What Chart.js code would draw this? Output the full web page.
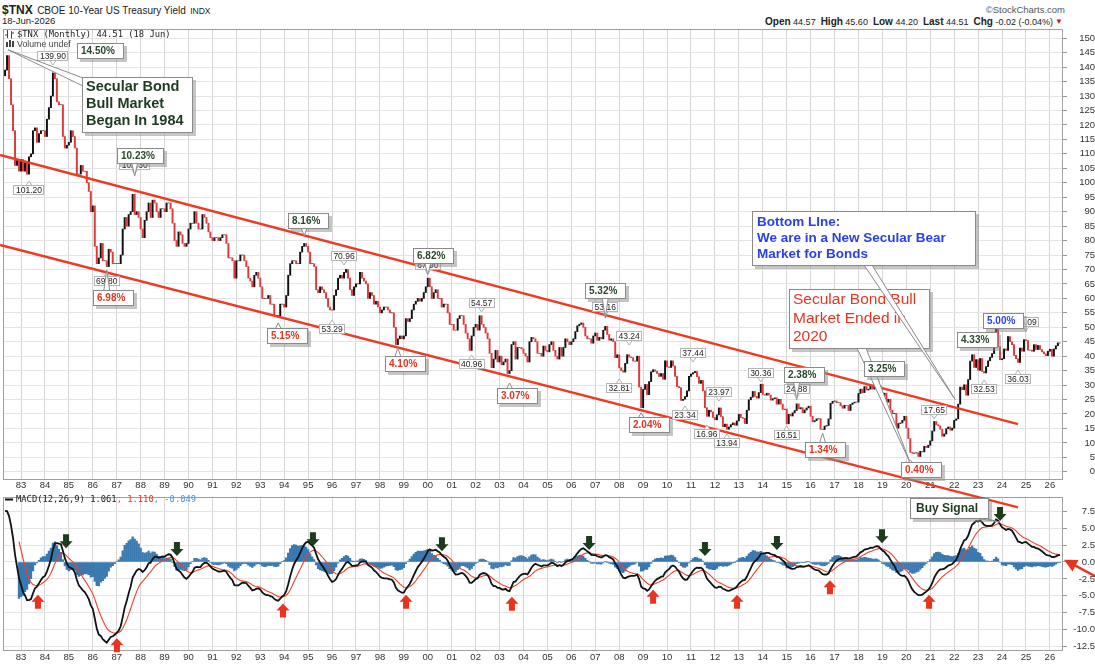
<!DOCTYPE html>
<html>
<head>
<meta charset="utf-8">
<title>$TNX monthly</title>
<script src="https://cdn.jsdelivr.net/npm/chart.js@4.4.1/dist/chart.umd.min.js"></script>
<style>
  html, body { margin: 0; padding: 0; background: #fff; }
  body { position: relative; width: 1095px; height: 666px; overflow: hidden; font-family: 'Liberation Sans', Arial, sans-serif; color: #222; }
  .hdr { position: absolute; white-space: nowrap; }
  canvas { position: absolute; left: 0; }
  #macd { top: 490px; }
  #price { top: 0; pointer-events: none; }
</style>
</head>
<body>
<div class="hdr" style="left:2px;top:1px;line-height:16px;"><b style="font-size:12px;">$TNX</b> <span style="font-size:10px;">CBOE 10-Year US Treasury Yield</span> <span style="font-size:8.5px;">INDX</span></div>
<div class="hdr" style="left:2px;top:15px;font-size:9.5px;line-height:12px;">18-Jun-2026</div>
<div class="hdr" style="right:30px;top:4px;font-size:9.5px;line-height:12px;color:#555;">&copy;StockCharts.com</div>
<div class="hdr" style="right:42px;top:16px;font-size:9px;line-height:12px;"><b style="font-size:10px;">Open</b> 44.57&nbsp; <b style="font-size:10px;">High</b> 45.60&nbsp; <b style="font-size:10px;">Low</b> 44.20&nbsp; <b style="font-size:10px;">Last</b> 44.51&nbsp; <b style="font-size:10px;">Chg</b> -0.02 (-0.04%)</div>
<div class="hdr" style="right:32px;top:17px;font-size:8px;line-height:10px;color:#c4161c;">&#9660;</div>
<canvas id="macd" width="1095" height="176"></canvas>
<canvas id="price" width="1095" height="666"></canvas>
<script>
Chart.defaults.font.family = "'Liberation Sans', Arial, sans-serif";
Chart.defaults.color = '#333';

// month index: 0 = Jan 1983, one tick per January
const yearLabels = ['83', '84', '85', '86', '87', '88', '89', '90', '91', '92', '93', '94', '95', '96', '97',
  '98', '99', '00', '01', '02', '03', '04', '05', '06', '07', '08', '09', '10', '11', '12', '13', '14', '15',
  '16', '17', '18', '19', '20', '21', '22', '23', '24', '25', '26'];
const priceTicks = [0, 5, 10, 15, 20, 25, 30, 35, 40, 45, 50, 55, 60, 65, 70, 75, 80, 85, 90, 95, 100,
  105, 110, 115, 120, 125, 130, 135, 140, 145, 150];
const macdTicks = [-12.5, -10, -7.5, -5, -2.5, 0, 2.5, 5, 7.5];

// monthly closes of $TNX (yield x 10), first bar is May 1982
const firstMonth = -8;
const firstOpen = 137;
const closes1982 = [139, 144, 136, 127, 118, 106, 108, 104];
const closes1980s = [
  108, 104, 107, 103, 109, 110, 118, 119, 114, 117, 118, 118,
  116, 122, 126, 130, 138, 136, 128, 127, 127, 116, 112, 113,
  114, 118, 116, 112, 103, 103, 106, 104, 104, 100, 97, 90,
  92, 78, 72, 74, 79, 73, 73, 71, 77, 76, 72, 72,
  72, 72, 75, 84, 88, 85, 89, 90, 96, 89, 90, 88,
  84, 81, 87, 90, 93, 88, 94, 93, 90, 88, 91, 91,
  90, 93, 93, 91, 86, 80, 78, 83, 82, 79, 78, 79
];
const closes1990s = [
  84, 86, 86, 90, 86, 84, 84, 89, 88, 86, 83, 81,
  80, 81, 81, 80, 81, 82, 82, 79, 74, 74, 73, 67,
  73, 73, 75, 75, 73, 71, 67, 66, 64, 68, 69, 67,
  64, 60, 60, 60, 61, 58, 58, 54, 54, 54, 58, 58,
  57, 61, 68, 72, 73, 73, 72, 72, 76, 78, 79, 78,
  76, 72, 72, 71, 63, 62, 64, 63, 62, 60, 57, 56,
  56, 61, 63, 67, 68, 67, 69, 70, 67, 63, 61, 64,
  65, 65, 69, 67, 66, 65, 60, 62, 61, 58, 59, 57,
  55, 56, 57, 57, 56, 55, 55, 50, 44, 46, 47, 46,
  47, 53, 52, 53, 56, 58, 59, 60, 59, 60, 62, 64
];
const closes2000s = [
  67, 64, 60, 62, 63, 60, 60, 57, 58, 58, 55, 51,
  51, 49, 49, 53, 54, 54, 51, 48, 46, 42, 47, 50,
  51, 49, 54, 51, 50, 48, 46, 41, 36, 39, 42, 38,
  40, 37, 38, 39, 34, 35, 44, 45, 39, 43, 43, 42.5,
  41, 40, 38, 45, 46.5, 46, 45, 41, 41, 40, 43.5, 42,
  41.5, 44, 45, 42, 40, 39, 43, 40, 43, 46, 45, 44,
  45, 46, 48.5, 50.5, 51, 51.5, 50, 47, 46, 46, 44.5, 47,
  48, 45.5, 46.5, 46, 49, 50.3, 47.5, 45.5, 46, 45, 39.5, 40.5,
  36, 35, 34.5, 37.5, 40.5, 39.7, 39.5, 38.3, 38.3, 40, 29.3, 22.2,
  28.5, 30.2, 26.7, 31.2, 34.6, 35.3, 34.8, 34, 33, 34, 32, 38.4
];
const closes2010s = [
  36.3, 36.1, 38.4, 36.6, 33, 29.5, 29.1, 24.7, 25.1, 26, 28, 33,
  33.8, 34.3, 34.7, 32.9, 30.6, 31.6, 28, 22.2, 19.2, 21.3, 20.7, 18.8,
  18, 19.7, 22.1, 19.1, 15.6, 16.5, 14.7, 15.5, 16.3, 16.9, 16.1, 17.6,
  19.9, 18.8, 18.5, 16.7, 21.3, 24.9, 25.8, 27.8, 26.1, 25.5, 27.4, 30.3,
  26.7, 26.5, 27.2, 26.5, 24.8, 25.3, 25.6, 23.4, 25.1, 23.4, 21.6, 21.7,
  16.6, 19.9, 19.3, 20.4, 21.2, 23.5, 21.8, 22.2, 20.4, 21.4, 22.1, 22.7,
  19.2, 17.3, 17.7, 18.3, 18.4, 14.7, 14.6, 15.8, 16, 18.3, 23.7, 24.4,
  24.5, 23.9, 23.9, 22.8, 22, 23, 22.9, 21.2, 23.3, 23.8, 24.1, 24.1,
  27.1, 28.6, 27.4, 29.5, 28.3, 28.6, 29.6, 28.6, 30.6, 31.5, 29.9, 26.9,
  26.3, 27.2, 24.1, 25.1, 21.3, 20.1, 20.2, 15.1, 16.7, 16.9, 17.8, 19.2
];
const closes2020s = [
  15.1, 11.5, 6.7, 6.4, 6.5, 6.6, 5.3, 7.1, 6.9, 8.8, 8.4, 9.2,
  10.7, 14.1, 17.4, 16.3, 15.9, 14.7, 12.3, 13.1, 14.9, 15.5, 14.4, 15.1,
  17.8, 18.3, 23.4, 29.3, 28.4, 30.1, 26.5, 31.9, 38.3, 40.5, 36.1, 38.8,
  35.1, 39.2, 34.7, 34.2, 36.4, 38.4, 39.6, 40.9, 45.7, 49.3, 43.3, 38.8,
  39.1, 42.5, 42, 46.8, 45, 44, 40.3, 39.1, 37.8, 42.8, 41.7, 45.7,
  45.4, 42.1, 42.1, 41.7, 44, 42.3, 43.7, 42.3, 41.5, 40.8, 40.2, 41.7,
  42.4, 40, 42.5, 43.6, 44.6, 44.51
];
const closes = [].concat(closes1982, closes1980s, closes1990s, closes2000s, closes2010s, closes2020s);
const months = closes.map((_, i) => firstMonth + i);
const opens = closes.map((c, i) => (i === 0 ? firstOpen : closes[i - 1]));

// hand drawn trendlines: [start, end] in months / yield
const trendMonths = [-10.5, 500];
const upperTrend = [109.6, 16.5];
const lowerTrend = [78.5, -12.3];

// MACD(12,26,9), EMA states carried in from before the first bar
const fastSeed = 137, slowSeed = 129, signalSeed = 9;
function ema(src, n, seed) {
  const k = 2 / (n + 1);
  let prev = seed;
  return src.map(v => (prev = prev + k * (v - prev)));
}
const fastEma = ema(closes, 12, fastSeed);
const slowEma = ema(closes, 26, slowSeed);
const macdLine = closes.map((_, i) => fastEma[i] - slowEma[i]);
const signalLine = ema(macdLine, 9, signalSeed);
const signalFrom = -1;

// arrows drawn on the MACD panel (month, MACD value at arrow tip)
const sellArrowMonths = [22.6, 78.2, 146.4, 211.1, 284.9, 343, 379.1, 431.8, 491];
const sellArrowTips = [2.05, 0.9, 2.34, 1.6, 1.77, 0.9, 1.77, 2.77, 6.08];
const buyArrowMonths = [8.5, 48.1, 131.4, 193.1, 246.2, 317, 359.1, 405.7, 455.4];
const buyArrowTips = [-4.84, -11.3, -6.13, -4.84, -5.13, -4.12, -4.84, -2.69, -4.84];

const GREEN = '#28472b', DARKGREEN = '#1e3a20', RED = '#e8341f', BLUE = '#2a3fe6';
const FONT = "'Liberation Sans', Arial, sans-serif";

// auto labels at highs and lows: [month, value, text, above]
const valueLabels = [
  [16, 139.9, '139.90', true], [4, 101.2, '101.20', false], [57, 102.3, '102.30', true],
  [43, 69.8, '69.80', false], [162, 70.96, '70.96', true], [156, 53.29, '53.29', false],
  [204, 67.9, '67.90', true], [231, 54.57, '54.57', true], [226, 40.96, '40.96', false],
  [293, 53.16, '53.16', true], [305, 43.24, '43.24', true], [300, 32.81, '32.81', false],
  [337, 37.44, '37.44', true], [333, 23.34, '23.34', false], [350, 23.97, '23.97', true],
  [344, 16.96, '16.96', false], [354, 13.94, '13.94', false], [371, 30.36, '30.36', true],
  [384, 16.51, '16.51', false], [389, 24.88, '24.88', true], [458, 17.65, '17.65', true],
  [483, 32.53, '32.53', false], [500, 36.03, '36.03', false], [504, 48.09, '48.09', true]
];

const percentBoxes = [
  { text: '14.50%', color: GREEN, m: -7, v: 146, dx: 70, dy: -7 },
  { text: '10.23%', color: GREEN, m: 57, v: 102.3, dx: -17.7, dy: -28.1 },
  { text: '6.98%', color: RED, m: 43, v: 69.8, dx: -13.7, dy: 19.9 },
  { text: '8.16%', color: GREEN, m: 142, v: 81.6, dx: -16.1, dy: -23 },
  { text: '5.15%', color: RED, m: 129, v: 51.5, dx: -11.2, dy: 5 },
  { text: '6.82%', color: GREEN, m: 204, v: 68.2, dx: -14.8, dy: -26.7 },
  { text: '4.10%', color: RED, m: 189, v: 43, dx: -12.9, dy: 8.5 },
  { text: '3.07%', color: RED, m: 245, v: 30.7, dx: -12.5, dy: 5 },
  { text: '5.32%', color: GREEN, m: 293, v: 53.2, dx: -20.2, dy: -35.1 },
  { text: '2.04%', color: RED, m: 311, v: 20.4, dx: -12.1, dy: 4.2 },
  { text: '2.38%', color: GREEN, m: 389, v: 24.9, dx: -12.7, dy: -32.8 },
  { text: '1.34%', color: RED, m: 402, v: 13.4, dx: -17.6, dy: 8.9 },
  { text: '3.25%', color: GREEN, m: 429, v: 32.5, dx: -12.4, dy: -16.9 },
  { text: '0.40%', color: RED, m: 446, v: 4, dx: -9.3, dy: 1.8 },
  { text: '4.33%', color: GREEN, m: 477, v: 43.3, dx: -15.1, dy: -14.7 },
  { text: '5.00%', color: BLUE, m: 490, v: 50, dx: -15.1, dy: -14.3 }
];

const bigCallouts = [
  { lines: ['Secular Bond', 'Bull Market', 'Began In 1984'], font: 'bold 14.5px ' + FONT, color: DARKGREEN,
    m: -6.5, v: 146, dx: 74, dy: 27.1, w: 111, h: 56, pad: 4, first: 10, lh: 17, base: [[1, 1], [1, 9]] },
  { lines: ['Secular Bond Bull', 'Market Ended in', '2020'], font: '15.5px ' + FONT, color: RED,
    m: 446, v: 3, dx: -121.3, dy: -174.1, w: 141, h: 60, pad: 4, first: 11, lh: 18.3, base: [[68, 59], [77, 59]] },
  { lines: ['Bottom LIne:', 'We are in a New Secular Bear', 'Market for Bonds'], font: 'bold 13.5px ' + FONT, color: BLUE,
    m: 468.5, v: 25, dx: -203.2, dy: -188.6, w: 224, h: 55, pad: 5, first: 11, lh: 16.3, base: [[112, 54], [120, 54]] }
];
const buySignal = { lines: ['Buy Signal'], font: 'bold 12px ' + FONT, color: DARKGREEN,
  m: 491, v: 5.9, dx: -90.1, dy: -24.2, w: 79, h: 21, pad: 6, first: 10.5, lh: 14, base: [[66, 20], [74, 20]] };

// ---------- drawing helpers ----------
function panelBorder(chart) {
  const a = chart.chartArea, ctx = chart.ctx;
  ctx.save();
  ctx.strokeStyle = '#a0a0a0';
  ctx.lineWidth = 1;
  ctx.strokeRect(Math.round(a.left) + 0.5, Math.round(a.top) + 0.5, Math.round(a.right - a.left) - 1, Math.round(a.bottom - a.top) - 1);
  ctx.restore();
}
function shadow(ctx, x, y, w, h) {
  ctx.fillStyle = 'rgba(140,140,140,0.5)';
  ctx.fillRect(x + 3, y + 3, w, h);
}
function box(ctx, x, y, w, h, border) {
  ctx.fillStyle = '#fff';
  ctx.fillRect(x, y, w, h);
  ctx.strokeStyle = border;
  ctx.lineWidth = 1;
  ctx.strokeRect(Math.round(x) + 0.5, Math.round(y) + 0.5, Math.round(w) - 1, Math.round(h) - 1);
}
function wedge(ctx, x1, y1, x2, y2, tx, ty, border) {
  ctx.beginPath();
  ctx.moveTo(x1, y1);
  ctx.lineTo(tx, ty);
  ctx.lineTo(x2, y2);
  ctx.closePath();
  ctx.fillStyle = '#fff';
  ctx.fill();
  ctx.strokeStyle = border;
  ctx.lineWidth = 1;
  ctx.stroke();
}
function drawCallout(ctx, c, ax, ay) {
  const x = Math.round(ax + c.dx), y = Math.round(ay + c.dy);
  shadow(ctx, x, y, c.w, c.h);
  wedge(ctx, x + c.base[0][0], y + c.base[0][1], x + c.base[1][0], y + c.base[1][1], ax, ay, '#8a8a8a');
  box(ctx, x, y, c.w, c.h, '#8a8a8a');
  ctx.font = c.font;
  ctx.fillStyle = c.color;
  ctx.textAlign = 'left';
  ctx.textBaseline = 'middle';
  c.lines.forEach((t, i) => ctx.fillText(t, x + c.pad, y + c.first + i * c.lh));
}
function drawPercentBox(ctx, b, ax, ay) {
  ctx.font = 'bold 10px ' + FONT;
  const w = Math.round(ctx.measureText(b.text).width) + 13, h = 16;
  const x = Math.round(ax + b.dx), y = Math.round(ay + b.dy);
  shadow(ctx, x, y, w, h);
  const cx = Math.min(Math.max(ax, x + 6), x + w - 6);
  if (ay > y + h + 1) wedge(ctx, cx - 3, y + h - 1, cx + 3, y + h - 1, ax, ay, '#8a8a8a');
  else if (ay < y - 1) wedge(ctx, cx - 3, y + 1, cx + 3, y + 1, ax, ay, '#8a8a8a');
  box(ctx, x, y, w, h, '#8a8a8a');
  ctx.fillStyle = b.color;
  ctx.textAlign = 'left';
  ctx.textBaseline = 'middle';
  ctx.fillText(b.text, x + 4, y + h / 2 + 0.5);
}
function drawValueLabel(ctx, l, ax, ay) {
  ctx.font = '8.5px ' + FONT;
  const w = Math.round(ctx.measureText(l[2]).width) + 5, h = 10;
  const x = Math.round(ax - w / 2);
  const y = Math.round(l[3] ? ay - 6 - h : ay + 6);
  const tipY = l[3] ? y + h + 4 : y - 4;
  const baseY = l[3] ? y + h - 0.5 : y + 0.5;
  wedge(ctx, ax - 3, baseY, ax + 3, baseY, ax, tipY, '#b0b0b0');
  box(ctx, x, y, w, h, '#b4b4b4');
  ctx.fillStyle = '#222';
  ctx.textAlign = 'center';
  ctx.textBaseline = 'middle';
  ctx.fillText(l[2], ax, y + h / 2 + 0.5);
}
function blockArrow(ctx, x, y, down, color) {
  const s = down ? -1 : 1;
  ctx.fillStyle = color;
  ctx.beginPath();
  ctx.moveTo(x - 3, y + s * 14);
  ctx.lineTo(x + 3, y + s * 14);
  ctx.lineTo(x + 3, y + s * 7);
  ctx.lineTo(x + 6.5, y + s * 7);
  ctx.lineTo(x, y);
  ctx.lineTo(x - 6.5, y + s * 7);
  ctx.lineTo(x - 3, y + s * 7);
  ctx.closePath();
  ctx.fill();
}

function xScale(height, pad) {
  return {
    type: 'linear', min: -9.03, max: 522.57, offset: false,
    afterBuildTicks: s => { s.ticks = yearLabels.map((_, i) => ({ value: i * 12 })); },
    afterFit: s => { s.height = height; },
    grid: { color: '#d6d6d6', drawTicks: false, offset: false },
    border: { display: false },
    ticks: { autoSkip: false, maxRotation: 0, padding: pad, font: { size: 9.5 }, color: '#333',
      callback: v => yearLabels[Math.round(v / 12)] }
  };
}

// ---------- MACD panel ----------
const macdTop = 490;
const macdDecor = {
  id: 'macdDecor',
  beforeDatasetsDraw(chart) { panelBorder(chart); },
  afterDatasetsDraw(chart) {
    const ctx = chart.ctx, sx = chart.scales.x, sy = chart.scales.y;
    ctx.save();
    sellArrowMonths.forEach((m, i) => blockArrow(ctx, sx.getPixelForValue(m), sy.getPixelForValue(sellArrowTips[i]), true, '#1d3b1d'));
    buyArrowMonths.forEach((m, i) => blockArrow(ctx, sx.getPixelForValue(m), sy.getPixelForValue(buyArrowTips[i]), false, RED));
    ctx.restore();
  },
  afterDraw(chart) {
    const ctx = chart.ctx, a = chart.chartArea;
    ctx.save();
    // legend
    ctx.strokeStyle = '#111';
    ctx.lineWidth = 2;
    ctx.beginPath();
    ctx.moveTo(5, 9.5);
    ctx.lineTo(13, 9.5);
    ctx.stroke();
    ctx.font = "8.8px 'DejaVu Sans Mono', monospace";
    ctx.textBaseline = 'middle';
    ctx.textAlign = 'left';
    let x = 16;
    [['MACD(12,26,9) 1.061', '#222'], [', 1.110', RED], [', -0.049', '#4d94d6']].forEach(p => {
      ctx.fillStyle = p[1];
      ctx.fillText(p[0], x, 9.5);
      x += ctx.measureText(p[0]).width;
    });
    // red arrow at the right end
    const tx = a.right + 1, ty = chart.scales.y.getPixelForValue(0.35);
    const ex = tx + 32, ey = ty + 17;
    const ang = Math.atan2(ty - ey, tx - ex);
    ctx.strokeStyle = RED;
    ctx.lineWidth = 2.5;
    ctx.beginPath();
    ctx.moveTo(ex, ey);
    ctx.lineTo(tx - 8 * Math.cos(ang), ty - 8 * Math.sin(ang));
    ctx.stroke();
    ctx.fillStyle = RED;
    ctx.beginPath();
    ctx.moveTo(tx, ty);
    ctx.lineTo(tx - 13 * Math.cos(ang) + 6.5 * Math.sin(ang), ty - 13 * Math.sin(ang) - 6.5 * Math.cos(ang));
    ctx.lineTo(tx - 13 * Math.cos(ang) - 6.5 * Math.sin(ang), ty - 13 * Math.sin(ang) + 6.5 * Math.cos(ang));
    ctx.closePath();
    ctx.fill();
    ctx.restore();
  }
};

const macdChart = new Chart(document.getElementById('macd'), {
  type: 'bar',
  data: {
    datasets: [
      { type: 'line', data: months.map((m, i) => ({ x: m, y: macdLine[i] })), borderColor: '#111', borderWidth: 1.8,
        pointRadius: 0, order: 0 },
      { type: 'line', data: months.map((m, i) => ({ x: m, y: signalLine[i] })).filter(p => p.x >= signalFrom),
        borderColor: '#f0402a', borderWidth: 1.1, pointRadius: 0, order: 1 },
      { type: 'bar', data: months.map((m, i) => ({ x: m, y: macdLine[i] - signalLine[i] })).filter(p => p.x >= signalFrom),
        backgroundColor: '#3a78b0', barThickness: 1.7, order: 2 }
    ]
  },
  options: {
    responsive: false, animation: false, events: [],
    layout: { padding: { left: 3, top: 2, right: 0, bottom: 0 } },
    plugins: { legend: { display: false }, tooltip: { enabled: false } },
    scales: {
      x: xScale(15, 1),
      y: {
        position: 'right', min: -13.18, max: 9.67,
        afterBuildTicks: s => { s.ticks = macdTicks.map(v => ({ value: v })); },
        afterFit: s => { s.width = 32; },
        grid: { color: '#e4e4e4', tickColor: '#999', tickLength: 4 },
        border: { display: false },
        ticks: { crossAlign: 'far', padding: 1, font: { size: 9.5 }, color: '#333', callback: v => v.toFixed(1) }
      }
    }
  },
  plugins: [macdDecor]
});

// ---------- price panel (canvas covers the whole page) ----------
const priceDecor = {
  id: 'priceDecor',
  beforeDatasetsDraw(chart) { panelBorder(chart); },
  afterDraw(chart) {
    const ctx = chart.ctx, sx = chart.scales.x, sy = chart.scales.y;
    const px = m => sx.getPixelForValue(m), py = v => sy.getPixelForValue(v);
    ctx.save();
    // panel legend
    ctx.strokeStyle = '#444';
    ctx.lineWidth = 1;
    ctx.beginPath();
    ctx.moveTo(7.5, 30); ctx.lineTo(7.5, 38); ctx.moveTo(5, 35); ctx.lineTo(7.5, 35);
    ctx.moveTo(11.5, 31); ctx.lineTo(11.5, 38.5); ctx.moveTo(11.5, 33); ctx.lineTo(14, 33);
    ctx.stroke();
    ctx.fillStyle = '#444';
    ctx.fillRect(6, 42, 2, 5); ctx.fillRect(9, 40, 2, 7); ctx.fillRect(12, 41, 2, 6);
    ctx.font = "8.8px 'DejaVu Sans Mono', monospace";
    ctx.fillStyle = '#222';
    ctx.textAlign = 'left';
    ctx.textBaseline = 'middle';
    ctx.fillText('$TNX (Monthly) 44.51 (18 Jun)', 17, 34.5);
    ctx.font = '8.8px ' + FONT;
    ctx.fillStyle = '#444';
    ctx.fillText('Volume undef', 17, 44.5);

    valueLabels.forEach(l => drawValueLabel(ctx, l, px(l[0]), py(l[1])));
    bigCallouts.forEach(c => drawCallout(ctx, c, px(c.m), py(c.v)));
    percentBoxes.forEach(b => drawPercentBox(ctx, b, px(b.m), py(b.v)));
    // Buy Signal sits on the MACD panel, over the lower trendline
    drawCallout(ctx, buySignal, px(buySignal.m), macdTop + macdChart.scales.y.getPixelForValue(buySignal.v));
    ctx.restore();
  }
};

new Chart(document.getElementById('price'), {
  type: 'bar',
  data: {
    datasets: [
      { type: 'line', data: trendMonths.map((m, i) => ({ x: m, y: upperTrend[i] })), borderColor: '#ee3a23',
        borderWidth: 2.4, pointRadius: 0, clip: false, order: 0 },
      { type: 'line', data: trendMonths.map((m, i) => ({ x: m, y: lowerTrend[i] })), borderColor: '#ee3a23',
        borderWidth: 2.4, pointRadius: 0, clip: false, order: 0 },
      { type: 'bar', data: months.map((m, i) => ({ x: m, y: [opens[i], closes[i]] })),
        backgroundColor: closes.map((c, i) => (c >= opens[i] ? '#111' : '#e0393a')), barThickness: 1.3, order: 5 }
    ]
  },
  options: {
    responsive: false, animation: false, events: [],
    layout: { padding: { left: 3, top: 29, right: 0, bottom: 176 } },
    plugins: { legend: { display: false }, tooltip: { enabled: false } },
    scales: {
      x: xScale(10, 0),
      y: {
        position: 'right', min: -2.84, max: 153.2,
        afterBuildTicks: s => { s.ticks = priceTicks.map(v => ({ value: v })); },
        afterFit: s => { s.width = 32; },
        grid: { color: '#e4e4e4', tickColor: '#999', tickLength: 4 },
        border: { display: false },
        ticks: { crossAlign: 'far', padding: 1, font: { size: 9.5 }, color: '#333', callback: v => String(v) }
      }
    }
  },
  plugins: [priceDecor]
});
</script>
</body>
</html>
